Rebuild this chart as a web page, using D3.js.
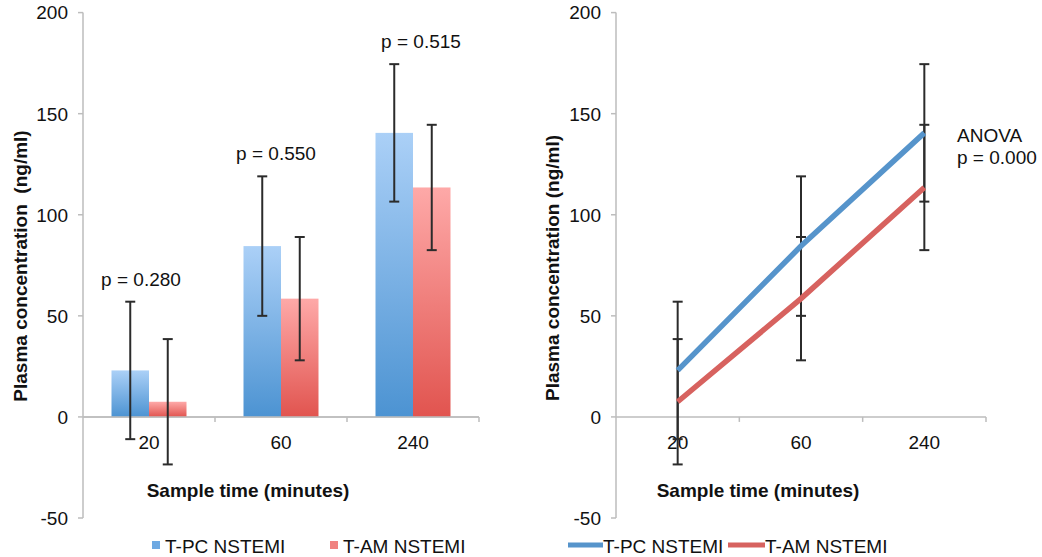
<!DOCTYPE html>
<html><head><meta charset="utf-8">
<script src="https://cdn.jsdelivr.net/npm/d3@7"></script>
<style>
html,body{margin:0;padding:0;background:#fff;}
text{font-family:"Liberation Sans",Arial,sans-serif;fill:#111;}
</style></head>
<body><svg id="c" width="1042" height="557"></svg>
<script>
const categories = ["20", "60", "240"];
const seriesNames = ["T-PC NSTEMI", "T-AM NSTEMI"];
const tpcMean = [23, 84.5, 140.5];
const tamMean = [7.5, 58.5, 113.5];
const tpcErr = [34, 34.5, 34];
const tamErr = [31, 30.5, 31];
const pLabels = ["p = 0.280", "p = 0.550", "p = 0.515"];
const pLabelDx = [-8, -5, 8];
const yTicks = [-50, 0, 50, 100, 150, 200];

const svg = d3.select("#c");
const defs = svg.append("defs");
function grad(id, c1, c2) {
  const g = defs.append("linearGradient").attr("id", id).attr("x1", 0).attr("y1", 0).attr("x2", 0).attr("y2", 1);
  g.append("stop").attr("offset", "0%").attr("stop-color", c1);
  g.append("stop").attr("offset", "100%").attr("stop-color", c2);
}
grad("gBlue", "#abd0f7", "#4c93d2");
grad("gRed", "#fea9a8", "#e1544f");

const FS = 19;
const axisCol = "#bdbdbd";
const errCol = "#2b2b2b";
const blueLine = "#5694cb";
const redLine = "#d7625f";

const y = d3.scaleLinear().domain([-50, 200]).range([518, 12.6]);

function drawAxes(g, x, x0, x1, titleX, yTitle, yTitleX, yTitleY) {
  g.append("line").attr("x1", x0).attr("x2", x0).attr("y1", y(200)).attr("y2", y(-50))
    .attr("stroke", axisCol).attr("stroke-width", 1.5);
  yTicks.forEach(t => {
    g.append("line").attr("x1", x0 - 5).attr("x2", x0).attr("y1", y(t)).attr("y2", y(t))
      .attr("stroke", axisCol).attr("stroke-width", 1.5);
    g.append("text").attr("x", x0 - 15).attr("y", y(t)).attr("dy", "0.36em")
      .attr("text-anchor", "end").attr("font-size", FS).text(t);
  });
  g.append("line").attr("x1", x0).attr("x2", x1).attr("y1", y(0)).attr("y2", y(0))
    .attr("stroke", axisCol).attr("stroke-width", 1.5);
  categories.forEach(c => {
    const xe = x(c) + x.bandwidth();
    g.append("line").attr("x1", xe).attr("x2", xe).attr("y1", y(0)).attr("y2", y(0) + 5)
      .attr("stroke", axisCol).attr("stroke-width", 1.5);
    g.append("text").attr("x", x(c) + x.bandwidth() / 2).attr("y", y(0) + 25).attr("dy", "0.36em")
      .attr("text-anchor", "middle").attr("font-size", FS).text(c);
  });
  g.append("text").attr("x", titleX).attr("y", 490).attr("dy", "0.36em")
    .attr("text-anchor", "middle").attr("font-size", FS).attr("font-weight", "bold")
    .text("Sample time (minutes)");
  g.append("text").attr("transform", `translate(${yTitleX},${yTitleY}) rotate(-90)`).attr("dy", "0.36em")
    .attr("text-anchor", "middle").attr("font-size", FS).attr("font-weight", "bold")
    .style("white-space", "pre")
    .text(yTitle);
}

function errBar(g, cx, mean, err) {
  const cap = 5;
  g.append("line").attr("x1", cx).attr("x2", cx).attr("y1", y(mean + err)).attr("y2", y(mean - err))
    .attr("stroke", errCol).attr("stroke-width", 2);
  [mean + err, mean - err].forEach(v => {
    g.append("line").attr("x1", cx - cap).attr("x2", cx + cap).attr("y1", y(v)).attr("y2", y(v))
      .attr("stroke", errCol).attr("stroke-width", 2);
  });
}

// ---------- Left chart ----------
{
  const g = svg.append("g");
  const x0 = 83, x1 = 479;
  const x = d3.scaleBand().domain(categories).range([x0, x1]);
  const inner = d3.scaleBand().domain(seriesNames).range([0, x.bandwidth()]).paddingOuter(0.76).paddingInner(0);
  drawAxes(g, x, x0, x1, 248, "Plasma concentration  (ng/ml)", 20.5, 266);
  const data = [tpcMean, tamMean];
  const errs = [tpcErr, tamErr];
  const fills = ["url(#gBlue)", "url(#gRed)"];
  data.forEach((arr, s) => {
    g.selectAll(null).data(arr).enter().append("rect")
      .attr("x", (d, i) => x(categories[i]) + inner(seriesNames[s]))
      .attr("width", inner.bandwidth())
      .attr("y", d => y(d))
      .attr("height", d => y(0) - y(d))
      .attr("fill", fills[s]);
  });
  g.append("line").attr("x1", x0).attr("x2", x1).attr("y1", y(0)).attr("y2", y(0))
    .attr("stroke", axisCol).attr("stroke-width", 1.5);
  data.forEach((arr, s) => {
    arr.forEach((m, i) => {
      errBar(g, x(categories[i]) + inner(seriesNames[s]) + inner.bandwidth() / 2, m, errs[s][i]);
    });
  });
  pLabels.forEach((p, i) => {
    g.append("text").attr("x", x(categories[i]) + x.bandwidth() / 2 + pLabelDx[i])
      .attr("y", y(tpcMean[i] + tpcErr[i]) - 23)
      .attr("dy", "0.36em").attr("text-anchor", "middle").attr("font-size", FS).text(p);
  });
  g.append("rect").attr("x", 152).attr("y", 541).attr("width", 8).attr("height", 8).attr("fill", "#6ea9e2");
  g.append("text").attr("x", 165).attr("y", 553).attr("font-size", FS).text(seriesNames[0]);
  g.append("rect").attr("x", 330).attr("y", 541).attr("width", 8).attr("height", 8).attr("fill", "#f08280");
  g.append("text").attr("x", 343).attr("y", 553).attr("font-size", FS).text(seriesNames[1]);
}

// ---------- Right chart ----------
{
  const g = svg.append("g");
  const x0 = 616, x1 = 986;
  const x = d3.scaleBand().domain(categories).range([x0, x1]);
  drawAxes(g, x, x0, x1, 758, "Plasma concentration (ng/ml)", 552, 268);
  const cx = c => x(c) + x.bandwidth() / 2;
  const line = d3.line().x((d, i) => cx(categories[i])).y(d => y(d));
  const errs = [tpcErr, tamErr];
  [tpcMean, tamMean].forEach((arr, s) => {
    arr.forEach((m, i) => errBar(g, cx(categories[i]), m, errs[s][i]));
  });
  g.append("path").datum(tpcMean).attr("d", line).attr("fill", "none")
    .attr("stroke", blueLine).attr("stroke-width", 5.5);
  g.append("path").datum(tamMean).attr("d", line).attr("fill", "none")
    .attr("stroke", redLine).attr("stroke-width", 5.5);
  g.append("text").attr("x", 957).attr("y", 135).attr("dy", "0.36em").attr("font-size", FS).text("ANOVA");
  g.append("text").attr("x", 957).attr("y", 157).attr("dy", "0.36em").attr("font-size", FS).text("p = 0.000");
  g.append("line").attr("x1", 568).attr("x2", 603).attr("y1", 545).attr("y2", 545)
    .attr("stroke", blueLine).attr("stroke-width", 5);
  g.append("text").attr("x", 603).attr("y", 553).attr("font-size", FS).text(seriesNames[0]);
  g.append("line").attr("x1", 728).attr("x2", 765).attr("y1", 545).attr("y2", 545)
    .attr("stroke", redLine).attr("stroke-width", 5);
  g.append("text").attr("x", 765).attr("y", 553).attr("font-size", FS).text(seriesNames[1]);
}
</script></body></html>
